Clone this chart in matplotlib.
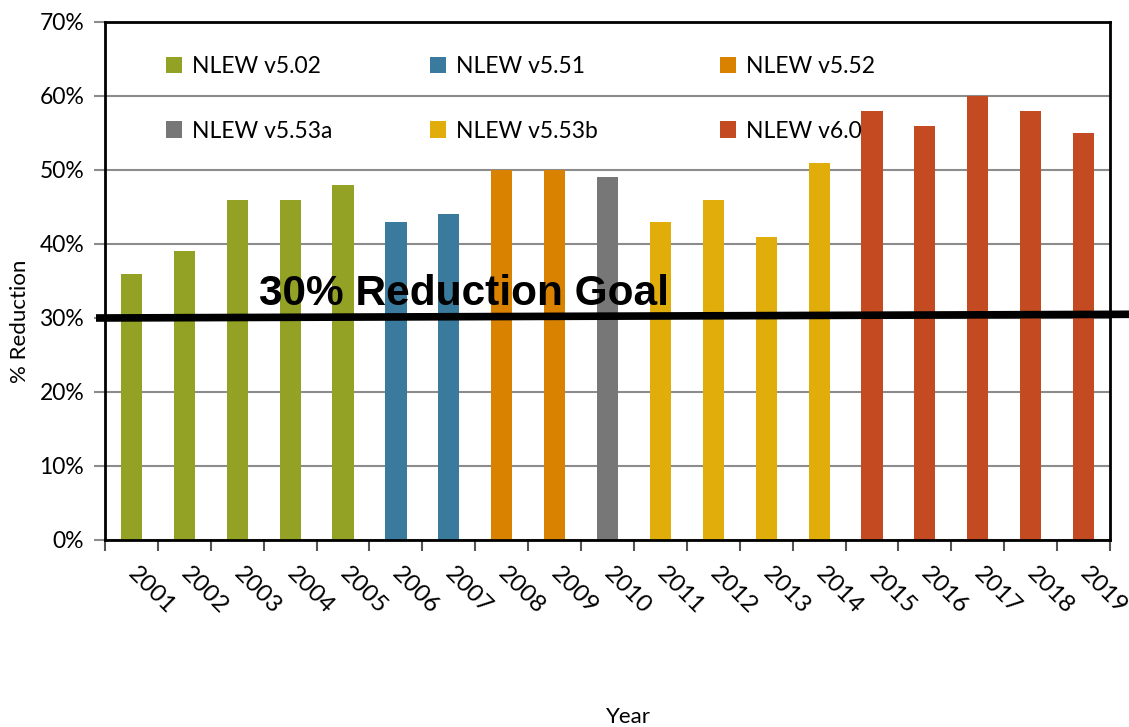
import matplotlib
matplotlib.use("Agg")
import matplotlib.pyplot as plt
from matplotlib.patches import Patch
import numpy as np

years = ["2001", "2002", "2003", "2004", "2005", "2006", "2007", "2008", "2009", "2010",
         "2011", "2012", "2013", "2014", "2015", "2016", "2017", "2018", "2019"]
reduction = [36, 39, 46, 46, 48, 43, 44, 50, 50, 49, 43, 46, 41, 51, 58, 56, 60, 58, 55]
versions = ["NLEW v5.02"] * 5 + ["NLEW v5.51"] * 2 + ["NLEW v5.52"] * 2 + ["NLEW v5.53a"] + \
           ["NLEW v5.53b"] * 4 + ["NLEW v6.0"] * 5
version_colors = {"NLEW v5.02": "#93A124", "NLEW v5.51": "#3A7A9D", "NLEW v5.52": "#D98200",
                  "NLEW v5.53a": "#777777", "NLEW v5.53b": "#E1AD0B", "NLEW v6.0": "#C44A22"}
legend_columns = [["NLEW v5.02", "NLEW v5.53a"], ["NLEW v5.51", "NLEW v5.53b"],
                  ["NLEW v5.52", "NLEW v6.0"]]
goal = [30, 30.5]
goal_label = "30% Reduction Goal"

plt.rcParams['font.family'] = ['Lato', 'DejaVu Sans']

W, H = 1129, 727
fig = plt.figure(figsize=(W / 100, H / 100), dpi=100)
ax = fig.add_axes([105/W, 1-540/H, (1110-105)/W, (540-22)/H])

x = np.arange(len(years))
ax.bar(x, reduction, width=0.4, color=[version_colors[v] for v in versions], zorder=2)

ax.set_xlim(-0.5, len(years) - 0.5)
ax.set_ylim(0, 70)
ax.set_yticks(np.arange(0, 71, 10))
ax.set_yticklabels([f"{v}%" for v in range(0, 71, 10)], fontsize=16.5)
ax.yaxis.grid(True, color="#8c8c8c", linewidth=1.5, zorder=0)
ax.set_axisbelow(True)
ax.tick_params(axis='y', length=8, width=1.5, color="#8c8c8c", pad=7)

ax.set_xticks(x)
ax.set_xticklabels(years, rotation=-45, fontsize=17.5, ha='left', va='center',
                   rotation_mode='anchor')
ax.tick_params(axis='x', which='major', length=0, pad=22)
ax.set_xticks(np.arange(-0.5, len(years), 1), minor=True)
ax.tick_params(axis='x', which='minor', length=8, width=1.5, color="#555555")

for s in ax.spines.values():
    s.set_linewidth(2)
    s.set_color("black")

# goal line
ax.plot([-0.67, 18.86], goal, color="black", linewidth=5.5, clip_on=False, zorder=5,
        solid_capstyle='butt')
ax.text(2.42, 33.2, goal_label, fontsize=30.5, fontweight='bold', family='Liberation Sans',
        ha='left', va='center', zorder=6)

fig.text(20/W, 1-321/H, "% Reduction", fontsize=16, rotation=90, ha='center', va='center')
fig.text(628/W, 1-717/H, "Year", fontsize=16, ha='center', va='center')

col_x = [166, 430, 720]
for cx, names in zip(col_x, legend_columns):
    handles = [Patch(facecolor=version_colors[n], label=n) for n in names]
    fig.legend(handles=handles, loc='upper left', bbox_to_anchor=(cx/W, 1-56/H),
               frameon=False, fontsize=16.5, handlelength=0.7, handleheight=0.7,
               handletextpad=0.45, labelspacing=1.9, borderpad=0, borderaxespad=0)

fig.savefig("out.png", dpi=100)
